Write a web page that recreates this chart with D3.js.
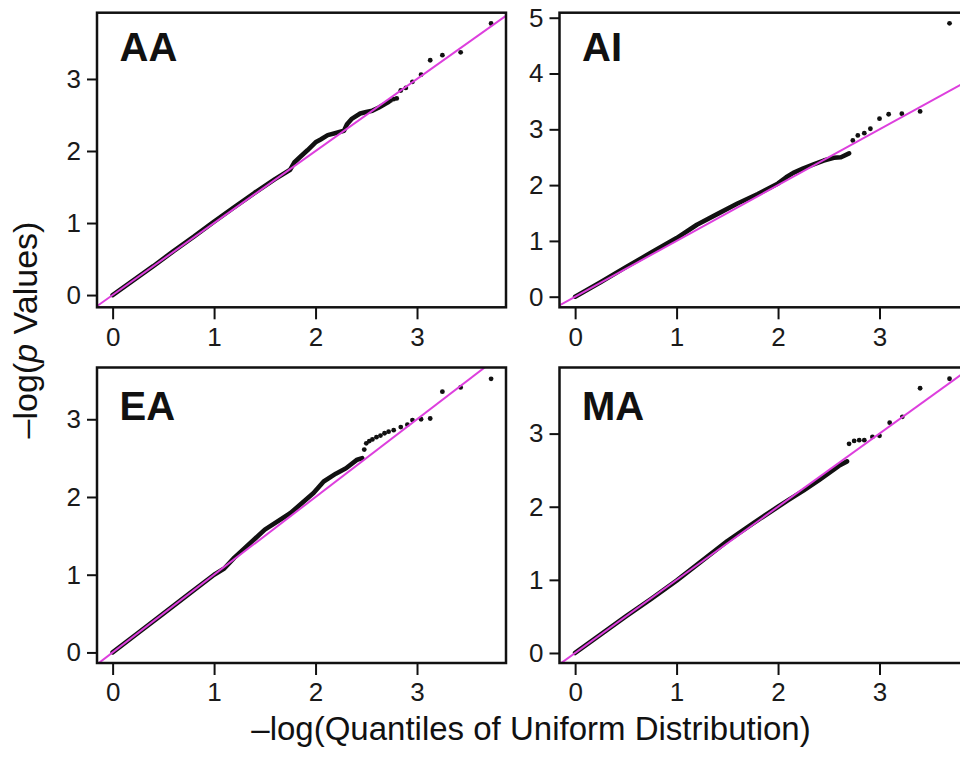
<!DOCTYPE html>
<html>
<head>
<meta charset="utf-8">
<script src="https://cdn.jsdelivr.net/npm/d3@7"></script>
<style>
  html, body { margin: 0; padding: 0; background: #fff; }
  svg { display: block; font-family: "Liberation Sans", Arial, Helvetica, sans-serif; }
</style>
</head>
<body>
<svg id="chart" width="960" height="758"></svg>
<script>
// ---- data ---------------------------------------------------------------
const panelNames = ["AA", "AI", "EA", "MA"];
const xTicks = [0, 1, 2, 3];
const xDomain = [-0.154, 3.877];

const yDomainAA = [-0.17, 3.92];
const yDomainAI = [-0.19, 5.09];
const yDomainEA = [-0.136, 3.666];
const yDomainMA = [-0.137, 3.904];

const yTicksAA = [0, 1, 2, 3];
const yTicksAI = [0, 1, 2, 3, 4, 5];
const yTicksEA = [0, 1, 2, 3];
const yTicksMA = [0, 1, 2, 3];

// dense run of overlapping points: [expected, observed]
const traceAA = [[0,0],[0.2,0.2],[0.4,0.4],[0.6,0.61],[0.8,0.81],[1.0,1.02],[1.2,1.22],[1.4,1.42],
  [1.6,1.61],[1.75,1.74],[1.79,1.84],[1.85,1.92],[1.92,2.01],[2.0,2.12],[2.05,2.16],[2.12,2.22],
  [2.2,2.25],[2.28,2.28],[2.31,2.37],[2.36,2.45],[2.44,2.52],[2.5,2.54],[2.56,2.56],[2.62,2.6],
  [2.68,2.65],[2.72,2.68]];
const tailAA = [[2.74,2.7],[2.77,2.72],[2.8,2.73],[2.84,2.84],[2.89,2.875],[2.955,2.96],[3.04,3.06],
  [3.13,3.26],[3.25,3.33],[3.43,3.37],[3.73,3.77]];

const traceAI = [[0,0],[0.25,0.26],[0.5,0.53],[0.75,0.79],[1.0,1.05],[1.2,1.29],[1.4,1.48],[1.6,1.67],
  [1.8,1.84],[2.0,2.03],[2.08,2.14],[2.15,2.22],[2.25,2.3],[2.35,2.37],[2.45,2.44],[2.55,2.49],
  [2.62,2.5],[2.7,2.57]];
const tailAI = [[2.737,2.8],[2.786,2.89],[2.85,2.93],[2.91,3.01],[3.0,3.19],[3.09,3.27],[3.22,3.28],
  [3.4,3.32],[3.69,4.9]];

const traceEA = [[0,0],[0.25,0.25],[0.5,0.5],[0.75,0.75],[1.0,1.0],[1.1,1.08],[1.2,1.22],[1.4,1.46],
  [1.5,1.58],[1.75,1.79],[1.98,2.05],[2.08,2.2],[2.2,2.3],[2.3,2.37],[2.41,2.48],[2.46,2.5]];
const tailEA = [[2.48,2.61],[2.5,2.69],[2.53,2.72],[2.56,2.74],[2.6,2.77],[2.64,2.79],[2.68,2.82],
  [2.72,2.84],[2.77,2.86],[2.84,2.9],[2.905,2.93],[2.955,2.99],[3.04,3.0],[3.13,3.01],[3.25,3.355],
  [3.43,3.41],[3.73,3.52]];

const traceMA = [[0,0],[0.25,0.25],[0.5,0.5],[0.75,0.74],[1.0,0.99],[1.25,1.26],[1.5,1.53],[1.75,1.77],
  [2.0,2.0],[2.1,2.09],[2.25,2.22],[2.4,2.36],[2.5,2.46],[2.6,2.56],[2.68,2.62]];
const tailMA = [[2.7,2.86],[2.75,2.9],[2.8,2.91],[2.85,2.91],[2.93,2.955],[3.0,2.97],[3.1,3.15],
  [3.225,3.23],[3.4,3.62],[3.69,3.75]];

// ---- layout ---------------------------------------------------------------
const colLeft = [97, 559.5];
const rowTop = [12.7, 367.5];
const panelW = 409;
const panelH = [294.6, 295.5];

const panels = [
  { name: panelNames[0], col: 0, row: 0, yDomain: yDomainAA, yTicks: yTicksAA, trace: traceAA, tail: tailAA },
  { name: panelNames[1], col: 1, row: 0, yDomain: yDomainAI, yTicks: yTicksAI, trace: traceAI, tail: tailAI },
  { name: panelNames[2], col: 0, row: 1, yDomain: yDomainEA, yTicks: yTicksEA, trace: traceEA, tail: tailEA },
  { name: panelNames[3], col: 1, row: 1, yDomain: yDomainMA, yTicks: yTicksMA, trace: traceMA, tail: tailMA }
];

const svg = d3.select("#chart");
const refColor = "#dd3fdd";

panels.forEach((p, i) => {
  const left = colLeft[p.col];
  const top = rowTop[p.row];
  const h = panelH[p.row];

  const x = d3.scaleLinear().domain(xDomain).range([0, panelW]);
  const y = d3.scaleLinear().domain(p.yDomain).range([h, 0]);

  const g = svg.append("g").attr("transform", `translate(${left},${top})`);

  g.append("clipPath").attr("id", "clip" + i)
    .append("rect").attr("width", panelW).attr("height", h);

  const plot = g.append("g").attr("clip-path", `url(#clip${i})`);

  // dense run of points
  plot.append("path")
    .datum(p.trace)
    .attr("fill", "none")
    .attr("stroke", "#111")
    .attr("stroke-width", 4.6)
    .attr("stroke-linecap", "round")
    .attr("stroke-linejoin", "round")
    .attr("d", d3.line().x(d => x(d[0])).y(d => y(d[1])));

  // sparse tail points
  plot.selectAll("circle.tail")
    .data(p.tail)
    .join("circle")
    .attr("class", "tail")
    .attr("cx", d => x(d[0]))
    .attr("cy", d => y(d[1]))
    .attr("r", 2.4)
    .attr("fill", "#111");

  // identity reference line
  const lo = Math.min(xDomain[0], p.yDomain[0]) - 1;
  const hi = Math.max(xDomain[1], p.yDomain[1]) + 1;
  plot.append("line")
    .attr("x1", x(lo)).attr("y1", y(lo))
    .attr("x2", x(hi)).attr("y2", y(hi))
    .attr("stroke", refColor)
    .attr("stroke-width", 2);

  // axes
  const xAxis = g.append("g")
    .attr("transform", `translate(0,${h})`)
    .call(d3.axisBottom(x).tickValues(xTicks).tickFormat(d3.format("d")).tickSize(12).tickPadding(8));
  const yAxis = g.append("g")
    .call(d3.axisLeft(y).tickValues(p.yTicks).tickFormat(d3.format("d")).tickSize(10).tickPadding(6));

  [xAxis, yAxis].forEach(a => {
    a.select(".domain").remove();
    a.selectAll(".tick line").attr("stroke", "#111").attr("stroke-width", 2);
    a.selectAll(".tick text")
      .attr("fill", "#1a1a1a")
      .style("font-size", "26px")
      .style("font-family", '"Liberation Sans", Arial, sans-serif');
  });

  // frame
  g.append("rect")
    .attr("width", panelW).attr("height", h)
    .attr("fill", "none")
    .attr("stroke", "#111")
    .attr("stroke-width", 2.5);

  // panel label
  g.append("text")
    .attr("x", 22.5)
    .attr("y", p.row === 0 ? 48 : 52)
    .attr("font-size", 40)
    .attr("font-weight", "bold")
    .attr("fill", "#111")
    .text(p.name);
});

// axis titles
svg.append("text")
  .attr("x", 531)
  .attr("y", 740)
  .attr("text-anchor", "middle")
  .attr("font-size", 33)
  .attr("fill", "#111")
  .text("\u2013log(Quantiles of Uniform Distribution)");

const yTitle = svg.append("text")
  .attr("transform", "translate(37,330) rotate(-90)")
  .attr("text-anchor", "middle")
  .attr("font-size", 34)
  .attr("fill", "#111");
yTitle.append("tspan").text("\u2013log(");
yTitle.append("tspan").attr("font-style", "italic").text("p");
yTitle.append("tspan").text(" Values)");
</script>
</body>
</html>
